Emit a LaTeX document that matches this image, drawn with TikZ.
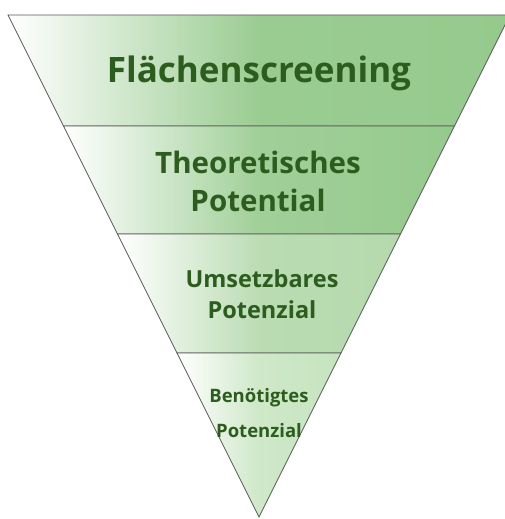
\documentclass[tikz,border=0pt]{standalone}
\usepackage{fontspec}
\setmainfont{Open Sans}
\usepackage{xcolor}
\usepackage{tikz}
\definecolor{bandA}{HTML}{96CA8D}
\definecolor{bandB}{HTML}{96CA8D}
\definecolor{bandC}{HTML}{B5D9AD}
\definecolor{bandD}{HTML}{C6E4BF}
\definecolor{labeltext}{HTML}{2C5C1E}

\begin{document}
\begin{tikzpicture}[x=1pt, y=-1pt,
		band/.style={draw=black!65, line width=0.7pt, left color=white},
		label/.style={text=labeltext, font=\bfseries, align=center, inner sep=0pt, anchor=base}
	]
			\useasboundingbox (0,0) rectangle (504,519);

			% funnel corners, row by row
			\coordinate (l0) at (8,15);    \coordinate (r0) at (510,15);
			\coordinate (l1) at (63.5,126); \coordinate (r1) at (454.5,126);
			\coordinate (l2) at (117.5,234); \coordinate (r2) at (400.5,234);
			\coordinate (l3) at (177,353);  \coordinate (r3) at (341,353);
			\coordinate (tip) at (259,517);

			% middle color has to come after right color
			\shade[band, right color=bandA, middle color=bandA!96] (l0) -- (r0) -- (r1) -- (l1) -- cycle;
			\shade[band, right color=bandB, middle color=bandB!90] (l1) -- (r1) -- (r2) -- (l2) -- cycle;
			\shade[band, right color=bandC, middle color=bandC!92] (l2) -- (r2) -- (r3) -- (l3) -- cycle;
			\shade[band, right color=bandD, middle color=bandD!85] (l3) -- (r3) -- (tip) -- cycle;

			% base anchor sits on the last line
			\node[label, font=\bfseries\fontsize{35}{42}\selectfont] (screening) at (259,82) {Flächenscreening};
			\node[label, font=\bfseries\fontsize{29.5}{38}\selectfont] (theoretisch) at (258,211) {Theoretisches\\Potential};
			\node[label, font=\bfseries\fontsize{23.5}{31}\selectfont] (umsetzbar) at (262,318) {Umsetzbares\\Potenzial};
			\node[label, font=\bfseries\fontsize{18.5}{35}\selectfont] (benoetigt) at (259,437) {Benötigtes\\Potenzial};
		\end{tikzpicture}
\end{document}
